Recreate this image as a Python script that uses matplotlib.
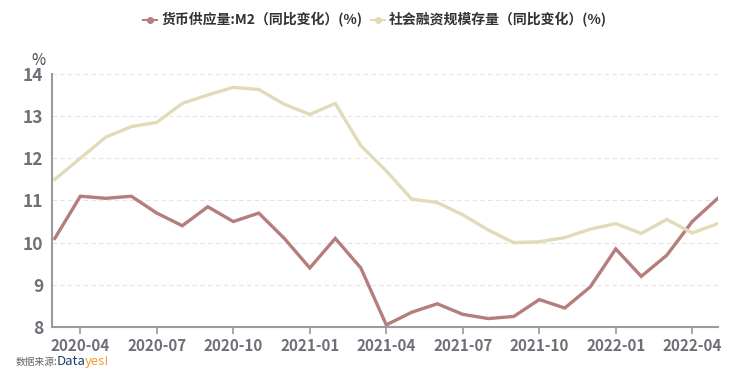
import matplotlib

matplotlib.use("Agg")

import matplotlib.pyplot as plt
import numpy as np

plt.rcParams["font.family"] = ["Noto Sans CJK SC", "DejaVu Sans"]

months = [
    "2020-03", "2020-04", "2020-05", "2020-06", "2020-07", "2020-08", "2020-09",
    "2020-10", "2020-11", "2020-12", "2021-01", "2021-02", "2021-03", "2021-04",
    "2021-05", "2021-06", "2021-07", "2021-08", "2021-09", "2021-10", "2021-11",
    "2021-12", "2022-01", "2022-02", "2022-03", "2022-04", "2022-05",
]
m2 = [10.1, 11.1, 11.05, 11.1, 10.7, 10.4, 10.85, 10.5, 10.7, 10.1, 9.4, 10.1, 9.4, 8.05,
      8.35, 8.55, 8.3, 8.2, 8.25, 8.65, 8.45, 8.95, 9.85, 9.2, 9.7, 10.5, 11.05]
tsf = [11.5, 12.0, 12.5, 12.75, 12.85, 13.3, 13.5, 13.68, 13.63, 13.28, 13.04, 13.3, 12.3, 11.7,
       11.03, 10.95, 10.66, 10.3, 10.0, 10.02, 10.12, 10.32, 10.45, 10.22, 10.55, 10.23, 10.45]
yticks = [8, 9, 10, 11, 12, 13, 14]

x = np.arange(len(months))
c_m2 = "#b57d7b"
c_tsf = "#e2dbb8"
grey = "#6f6f78"

fig = plt.figure(figsize=(7.5, 3.75), dpi=100)
ax = fig.add_axes([0.069, 0.128, 0.888, 0.675])

ax.plot(x, m2, color=c_m2, lw=2.4, label="货币供应量:M2（同比变化）(%)", solid_joinstyle="miter")
ax.plot(x, tsf, color=c_tsf, lw=2.4, label="社会融资规模存量（同比变化）(%)", solid_joinstyle="miter")

ax.set_xlim(-0.12, len(months) - 1)
ax.set_ylim(8, 14)
ax.set_yticks(yticks)
ax.set_yticklabels([str(v) for v in yticks], fontsize=12.5, color=grey, fontweight="bold")
tick_pos = [i for i, m in enumerate(months) if m[5:] in ("01", "04", "07", "10")]
ax.set_xticks(tick_pos)
ax.set_xticklabels([months[i] for i in tick_pos], fontsize=11, color=grey, fontweight="bold")
ax.tick_params(axis="y", length=0, pad=6)
ax.tick_params(axis="x", length=5, color="#9a9aa4", width=1.2, pad=3)

ax.grid(axis="y", color="#e4e4e4", linestyle=(0, (4, 3)), lw=0.8)
ax.set_axisbelow(True)
for s in ("top", "right"):
    ax.spines[s].set_visible(False)
for s in ("left", "bottom"):
    ax.spines[s].set_color("#9a9aa4")
    ax.spines[s].set_linewidth(1.5)

ax.text(-0.02, 1.02, "%", transform=ax.transAxes, ha="center", va="bottom",
        fontsize=11, color="#444444")

leg = fig.legend(loc="upper center", bbox_to_anchor=(0.5, 1.0), ncol=2, frameon=False,
                 fontsize=10, handlelength=1.0, handletextpad=0.3, columnspacing=0.6)
for h in leg.get_lines():
    h.set_linewidth(1.5)
    h.set_marker("o")
    h.set_markersize(4)
for t in leg.get_texts():
    t.set_color("#333333")
    t.set_fontweight("bold")

# source line: "数据来源:" + Datayes! logo text
fig.text(0.021, 0.035, "数据来源:", fontsize=7, color="#666666", va="center")
d = fig.text(0.075, 0.035, "Data", fontsize=9.5, color="#1f3f6e", va="center")
fig.canvas.draw()
bb = d.get_window_extent().transformed(fig.transFigure.inverted())
fig.text(bb.x1, 0.035, "yes!", fontsize=9.5, color="#f29a2e", va="center")

fig.savefig("out.png", dpi=100)
